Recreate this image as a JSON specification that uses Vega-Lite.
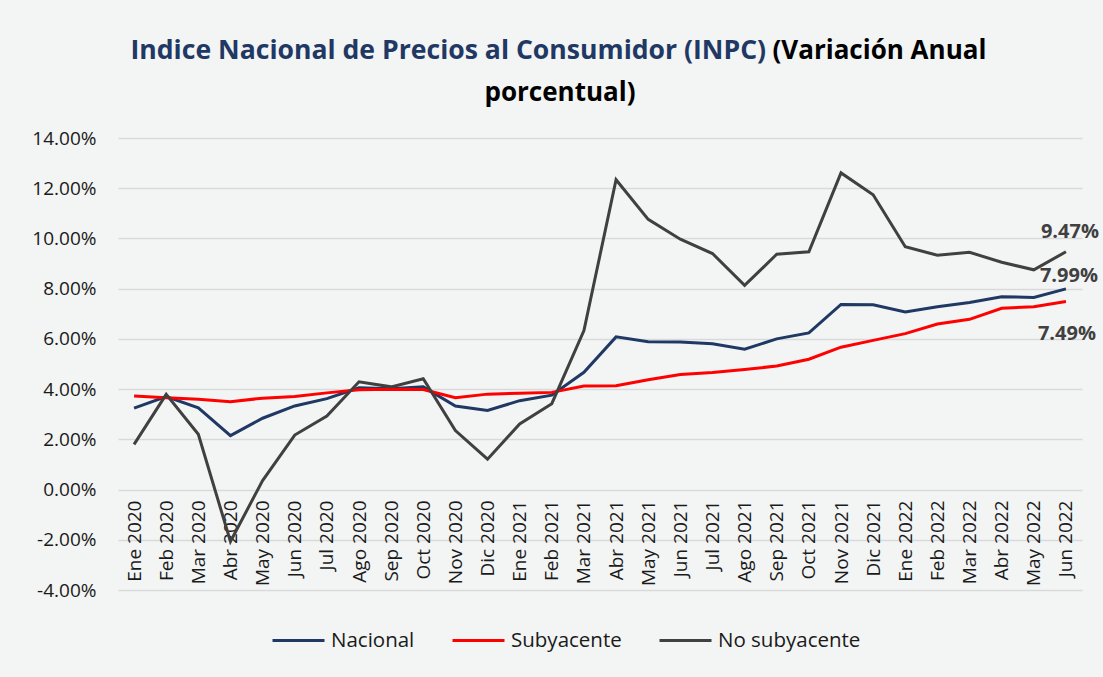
{
  "$schema": "https://vega.github.io/schema/vega-lite/v6.json",
  "autosize": {"type": "none"},
  "width": 964,
  "height": 452,
  "padding": {"left": 118, "top": 138, "right": 21, "bottom": 87},
  "background": "#f3f4f4",
  "title": {
    "text": "porcentual)",
    "anchor": "middle",
    "frame": "group",
    "dx": -40,
    "dy": 90,
    "offset": 0,
    "baseline": "alphabetic",
    "font": "Open Sans",
    "fontSize": 26,
    "fontWeight": "bold",
    "color": "#000000"
  },
  "config": {
    "view": {"stroke": null},
    "font": "Open Sans"
  },
  "data": {
    "values": [
      {"m": "Ene 2020", "s": "Nacional", "v": 0.0324},
      {"m": "Feb 2020", "s": "Nacional", "v": 0.0370},
      {"m": "Mar 2020", "s": "Nacional", "v": 0.0325},
      {"m": "Abr 2020", "s": "Nacional", "v": 0.0215},
      {"m": "May 2020", "s": "Nacional", "v": 0.0284},
      {"m": "Jun 2020", "s": "Nacional", "v": 0.0333},
      {"m": "Jul 2020", "s": "Nacional", "v": 0.0362},
      {"m": "Ago 2020", "s": "Nacional", "v": 0.0405},
      {"m": "Sep 2020", "s": "Nacional", "v": 0.0401},
      {"m": "Oct 2020", "s": "Nacional", "v": 0.0409},
      {"m": "Nov 2020", "s": "Nacional", "v": 0.0333},
      {"m": "Dic 2020", "s": "Nacional", "v": 0.0315},
      {"m": "Ene 2021", "s": "Nacional", "v": 0.0354},
      {"m": "Feb 2021", "s": "Nacional", "v": 0.0376},
      {"m": "Mar 2021", "s": "Nacional", "v": 0.0467},
      {"m": "Abr 2021", "s": "Nacional", "v": 0.0608},
      {"m": "May 2021", "s": "Nacional", "v": 0.0589},
      {"m": "Jun 2021", "s": "Nacional", "v": 0.0588},
      {"m": "Jul 2021", "s": "Nacional", "v": 0.0581},
      {"m": "Ago 2021", "s": "Nacional", "v": 0.0559},
      {"m": "Sep 2021", "s": "Nacional", "v": 0.0600},
      {"m": "Oct 2021", "s": "Nacional", "v": 0.0624},
      {"m": "Nov 2021", "s": "Nacional", "v": 0.0737},
      {"m": "Dic 2021", "s": "Nacional", "v": 0.0736},
      {"m": "Ene 2022", "s": "Nacional", "v": 0.0707},
      {"m": "Feb 2022", "s": "Nacional", "v": 0.0728},
      {"m": "Mar 2022", "s": "Nacional", "v": 0.0745},
      {"m": "Abr 2022", "s": "Nacional", "v": 0.0768},
      {"m": "May 2022", "s": "Nacional", "v": 0.0765},
      {"m": "Jun 2022", "s": "Nacional", "v": 0.0799},
      {"m": "Ene 2020", "s": "Subyacente", "v": 0.0373},
      {"m": "Feb 2020", "s": "Subyacente", "v": 0.0366},
      {"m": "Mar 2020", "s": "Subyacente", "v": 0.0360},
      {"m": "Abr 2020", "s": "Subyacente", "v": 0.0350},
      {"m": "May 2020", "s": "Subyacente", "v": 0.0364},
      {"m": "Jun 2020", "s": "Subyacente", "v": 0.0371},
      {"m": "Jul 2020", "s": "Subyacente", "v": 0.0385},
      {"m": "Ago 2020", "s": "Subyacente", "v": 0.0397},
      {"m": "Sep 2020", "s": "Subyacente", "v": 0.0399},
      {"m": "Oct 2020", "s": "Subyacente", "v": 0.0398},
      {"m": "Nov 2020", "s": "Subyacente", "v": 0.0366},
      {"m": "Dic 2020", "s": "Subyacente", "v": 0.0380},
      {"m": "Ene 2021", "s": "Subyacente", "v": 0.0384},
      {"m": "Feb 2021", "s": "Subyacente", "v": 0.0387},
      {"m": "Mar 2021", "s": "Subyacente", "v": 0.0412},
      {"m": "Abr 2021", "s": "Subyacente", "v": 0.0413},
      {"m": "May 2021", "s": "Subyacente", "v": 0.0437},
      {"m": "Jun 2021", "s": "Subyacente", "v": 0.0458},
      {"m": "Jul 2021", "s": "Subyacente", "v": 0.0466},
      {"m": "Ago 2021", "s": "Subyacente", "v": 0.0478},
      {"m": "Sep 2021", "s": "Subyacente", "v": 0.0492},
      {"m": "Oct 2021", "s": "Subyacente", "v": 0.0519},
      {"m": "Nov 2021", "s": "Subyacente", "v": 0.0567},
      {"m": "Dic 2021", "s": "Subyacente", "v": 0.0594},
      {"m": "Ene 2022", "s": "Subyacente", "v": 0.0621},
      {"m": "Feb 2022", "s": "Subyacente", "v": 0.0659},
      {"m": "Mar 2022", "s": "Subyacente", "v": 0.0678},
      {"m": "Abr 2022", "s": "Subyacente", "v": 0.0722},
      {"m": "May 2022", "s": "Subyacente", "v": 0.0728},
      {"m": "Jun 2022", "s": "Subyacente", "v": 0.0749},
      {"m": "Ene 2020", "s": "No subyacente", "v": 0.0180},
      {"m": "Feb 2020", "s": "No subyacente", "v": 0.0379},
      {"m": "Mar 2020", "s": "No subyacente", "v": 0.0220},
      {"m": "Abr 2020", "s": "No subyacente", "v": -0.0207},
      {"m": "May 2020", "s": "No subyacente", "v": 0.0036},
      {"m": "Jun 2020", "s": "No subyacente", "v": 0.0217},
      {"m": "Jul 2020", "s": "No subyacente", "v": 0.0293},
      {"m": "Ago 2020", "s": "No subyacente", "v": 0.0429},
      {"m": "Sep 2020", "s": "No subyacente", "v": 0.0409},
      {"m": "Oct 2020", "s": "No subyacente", "v": 0.0441},
      {"m": "Nov 2020", "s": "No subyacente", "v": 0.0235},
      {"m": "Dic 2020", "s": "No subyacente", "v": 0.0121},
      {"m": "Ene 2021", "s": "No subyacente", "v": 0.0261},
      {"m": "Feb 2021", "s": "No subyacente", "v": 0.0342},
      {"m": "Mar 2021", "s": "No subyacente", "v": 0.0633},
      {"m": "Abr 2021", "s": "No subyacente", "v": 0.1234},
      {"m": "May 2021", "s": "No subyacente", "v": 0.1076},
      {"m": "Jun 2021", "s": "No subyacente", "v": 0.0997},
      {"m": "Jul 2021", "s": "No subyacente", "v": 0.0940},
      {"m": "Ago 2021", "s": "No subyacente", "v": 0.0813},
      {"m": "Sep 2021", "s": "No subyacente", "v": 0.0937},
      {"m": "Oct 2021", "s": "No subyacente", "v": 0.0947},
      {"m": "Nov 2021", "s": "No subyacente", "v": 0.1261},
      {"m": "Dic 2021", "s": "No subyacente", "v": 0.1174},
      {"m": "Ene 2022", "s": "No subyacente", "v": 0.0967},
      {"m": "Feb 2022", "s": "No subyacente", "v": 0.0933},
      {"m": "Mar 2022", "s": "No subyacente", "v": 0.0945},
      {"m": "Abr 2022", "s": "No subyacente", "v": 0.0905},
      {"m": "May 2022", "s": "No subyacente", "v": 0.0875},
      {"m": "Jun 2022", "s": "No subyacente", "v": 0.0947}
    ]
  },
  "encoding": {
    "x": {
      "field": "m",
      "type": "ordinal",
      "sort": null,
      "scale": {"type": "point", "padding": 0.5},
      "axis": {
        "orient": "bottom",
        "offset": -100,
        "labelAngle": -90,
        "labelAlign": "right",
        "labelBaseline": "middle",
        "labelPadding": 10,
        "labelFont": "Open Sans",
        "labelFontSize": 19,
        "labelColor": "#1a1a1a",
        "labelOverlap": false,
        "ticks": false,
        "domain": false,
        "grid": false,
        "title": "(Variación Anual",
        "titleX": 654,
        "titleY": -432,
        "titleAngle": 0,
        "titleAlign": "left",
        "titleBaseline": "alphabetic",
        "titleFont": "Open Sans",
        "titleFontSize": 26,
        "titleFontWeight": "bold",
        "titleColor": "#000000"
      }
    },
    "y": {
      "field": "v",
      "type": "quantitative",
      "scale": {"domain": [-0.04, 0.14], "nice": false, "zero": false},
      "axis": {
        "values": [-0.04, -0.02, 0, 0.02, 0.04, 0.06, 0.08, 0.10, 0.12, 0.14],
        "labelExpr": "replace(format(datum.value, '.2%'), '\u2212', '-')",
        "labelFont": "Open Sans",
        "labelFontSize": 19,
        "labelColor": "#1a1a1a",
        "labelPadding": 22,
        "ticks": false,
        "domain": false,
        "grid": true,
        "gridColor": "#d9d9d9",
        "gridWidth": 1.5,
        "title": "Indice Nacional de Precios al Consumidor (INPC)",
        "titleX": 12,
        "titleY": -80,
        "titleAngle": 0,
        "titleAlign": "left",
        "titleBaseline": "alphabetic",
        "titleFont": "Open Sans",
        "titleFontSize": 26.6,
        "titleFontWeight": "bold",
        "titleColor": "#1F3864"
      }
    }
  },
  "layer": [
    {
      "mark": {"type": "line", "strokeWidth": 3},
      "encoding": {
        "color": {
          "field": "s",
          "type": "nominal",
          "scale": {
            "domain": ["Nacional", "Subyacente", "No subyacente"],
            "range": ["#1F3864", "#FF0000", "#404040"]
          },
          "legend": {
            "title": null,
            "orient": "none",
            "direction": "horizontal",
            "legendX": 153,
            "legendY": 475,
            "symbolType": "stroke",
            "symbolStrokeWidth": 3,
            "symbolSize": 2704,
            "labelFont": "Open Sans",
            "labelFontSize": 20.5,
            "labelColor": "#1a1a1a",
            "labelOffset": 5,
            "columnPadding": 31
          }
        }
      }
    },
    {
      "transform": [{"filter": "datum.m == 'Jun 2022' && datum.s == 'No subyacente'"}],
      "mark": {"type": "text", "align": "center", "baseline": "middle", "dx": 4, "dy": -20, "font": "Open Sans", "fontSize": 20, "fontWeight": "bold", "color": "#404040"},
      "encoding": {"text": {"field": "v", "format": ".2%"}}
    },
    {
      "transform": [{"filter": "datum.m == 'Jun 2022' && datum.s == 'Nacional'"}],
      "mark": {"type": "text", "align": "center", "baseline": "middle", "dx": 3, "dy": -13, "font": "Open Sans", "fontSize": 20, "fontWeight": "bold", "color": "#404040"},
      "encoding": {"text": {"field": "v", "format": ".2%"}}
    },
    {
      "transform": [{"filter": "datum.m == 'Jun 2022' && datum.s == 'Subyacente'"}],
      "mark": {"type": "text", "align": "center", "baseline": "middle", "dx": 1, "dy": 33, "font": "Open Sans", "fontSize": 20, "fontWeight": "bold", "color": "#404040"},
      "encoding": {"text": {"field": "v", "format": ".2%"}}
    }
  ]
}
